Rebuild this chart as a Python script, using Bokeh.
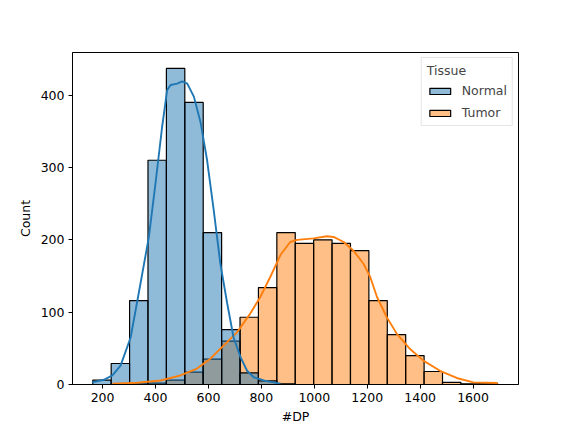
from bokeh.plotting import figure
from bokeh.models import (ColumnDataSource, Legend, LegendItem, FixedTicker,
                          Range1d)
from bokeh.embed import file_html
from bokeh.resources import INLINE

# Histogram bins shared by both tissues
BIN_START = 163.0
BIN_WIDTH = 69.55
N_BINS = 22

# Counts per bin
normal_counts = [6, 29, 116, 310, 437, 390, 210, 76, 16, 5, 1, 0,
                 0, 0, 0, 0, 0, 0, 0, 0, 0, 0]
tumor_counts = [0, 0, 1, 2, 6, 17, 35, 60, 93, 134, 210, 195,
                200, 195, 185, 116, 69, 40, 18, 3, 1, 1]

# Density curves (scaled to counts)
normal_kde_x = [161, 205, 237, 268, 306, 343, 375, 400, 425, 444, 457, 482,
                501, 520, 545, 570, 595, 620, 645, 671, 695, 721, 746, 771,
                809, 846, 872]
normal_kde_y = [3, 6.5, 12.5, 26, 65, 139, 204, 278, 356, 407, 414, 416,
                419, 416, 398, 363, 310, 241, 167, 112, 65, 38, 19, 10,
                5.5, 3, 1]
tumor_kde_x = [237, 331, 419, 494, 557, 608, 658, 708, 758, 796, 834, 872,
               909, 935, 997, 1048, 1073, 1111, 1148, 1186, 1211, 1237, 1274,
               1312, 1362, 1412, 1475, 1538, 1601, 1693]
tumor_kde_y = [1, 2.4, 5.5, 12.5, 22, 36, 54, 72, 98, 121, 149, 179,
               197, 200, 202, 205, 204, 197, 185, 167, 149, 121, 93,
               70, 49, 33, 19, 9, 3, 2]

x_ticks = [200, 400, 600, 800, 1000, 1200, 1400, 1600]
y_ticks = [0, 100, 200, 300, 400]

BLUE = "#1f77b4"
ORANGE = "#ff7f0e"
FONT = "DejaVu Sans"

left_edges = [BIN_START + i * BIN_WIDTH for i in range(N_BINS)]
right_edges = [l + BIN_WIDTH for l in left_edges]

p = figure(width=576, height=432, output_backend="svg", toolbar_location=None,
           x_range=Range1d(86.4, 1771.6), y_range=Range1d(0, 459),
           min_border_left=72, min_border_right=58,
           min_border_top=52, min_border_bottom=48)
p.background_fill_color = "white"
p.border_fill_color = "white"
p.grid.visible = False
p.outline_line_color = "black"
p.outline_line_width = 1

tumor_src = ColumnDataSource(dict(left=left_edges, right=right_edges,
                                  top=tumor_counts, bottom=[0] * N_BINS))
normal_src = ColumnDataSource(dict(left=left_edges, right=right_edges,
                                   top=normal_counts, bottom=[0] * N_BINS))

r_tumor = p.quad(left="left", right="right", top="top", bottom="bottom",
                 source=tumor_src, fill_color=ORANGE, fill_alpha=0.5,
                 line_color="black", line_width=1.2)
r_normal = p.quad(left="left", right="right", top="top", bottom="bottom",
                  source=normal_src, fill_color=BLUE, fill_alpha=0.5,
                  line_color="black", line_width=1.2)

p.line(tumor_kde_x, tumor_kde_y, line_color=ORANGE, line_width=1.9)
p.line(normal_kde_x, normal_kde_y, line_color=BLUE, line_width=1.9)

for ax in (p.xaxis[0], p.yaxis[0]):
    ax.major_tick_out = 4
    ax.major_tick_in = 0
    ax.minor_tick_line_color = None
    ax.axis_line_color = "black"
    ax.major_tick_line_color = "black"
    ax.major_label_text_font = FONT
    ax.major_label_text_font_size = "12.5px"
    ax.major_label_text_color = "black"
    ax.axis_label_text_font = FONT
    ax.axis_label_text_font_size = "12.5px"
    ax.axis_label_text_font_style = "normal"
    ax.axis_label_text_color = "black"

p.xaxis.ticker = FixedTicker(ticks=x_ticks)
p.yaxis.ticker = FixedTicker(ticks=y_ticks)
p.xaxis.axis_label = "#DP"
p.yaxis.axis_label = "Count"
p.xaxis.major_label_standoff = 4
p.yaxis.major_label_standoff = 4
p.xaxis.axis_label_standoff = 4
p.yaxis.axis_label_standoff = 5

legend = Legend(items=[LegendItem(label="Normal", renderers=[r_normal]),
                       LegendItem(label="Tumor", renderers=[r_tumor])],
                location="top_right", title="Tissue")
legend.title_text_font = FONT
legend.title_text_font_size = "12.5px"
legend.title_text_font_style = "normal"
legend.title_standoff = 5
legend.label_text_font = FONT
legend.label_text_font_size = "12.5px"
legend.glyph_width = 26
legend.glyph_height = 8
legend.label_height = 14
legend.label_standoff = 9
legend.spacing = 7
legend.padding = 5
legend.margin = 5
legend.border_line_color = "#cccccc"
legend.background_fill_alpha = 0.8
p.add_layout(legend)

open("out.html", "w").write(file_html(p, INLINE))
